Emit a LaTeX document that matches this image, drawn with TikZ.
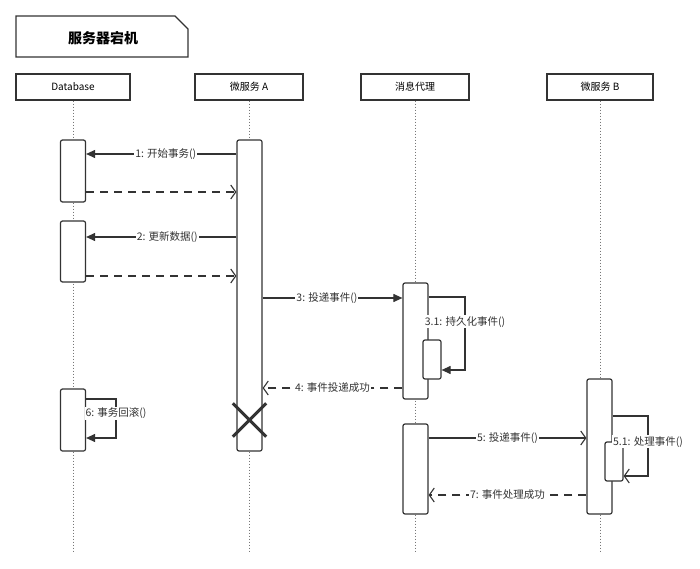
\documentclass[tikz,border=0pt]{standalone}
\usepackage{fontspec}
\setmainfont{Noto Sans CJK SC}
\usetikzlibrary{arrows.meta}
\definecolor{ink}{HTML}{333333}
\definecolor{lifec}{HTML}{777777}
\tikzset{
  hdr/.style={draw=ink, line width=1.3pt, fill=white, minimum width=#1, minimum height=26pt, inner sep=0pt, font=\fontsize{10}{12}\selectfont},
  act/.style={draw=ink, line width=1.2pt, fill=white, rounded corners=2pt, inner sep=0pt},
  life/.style={draw=lifec, line width=1pt, dotted},
  msg/.style={draw=ink, line width=1.1pt, -{Triangle[length=9pt,width=8pt]}},
  amsg/.style={draw=ink, line width=1.1pt, -{Straight Barb[length=5pt,width=14pt,line width=1.1pt]}},
  ret/.style={draw=ink, line width=1.1pt, dash pattern=on 8pt off 6pt, -{Straight Barb[length=5pt,width=14pt,line width=1.1pt]}},
  lbl/.style={fill=white, inner sep=1pt, font=\fontsize{10.5}{12}\selectfont, text=ink},
}
\begin{document}
\begin{tikzpicture}[x=1pt,y=-1pt]
\useasboundingbox[fill=white] (0,0) rectangle (700,569);
% title frame
\draw[ink, line width=1.3pt] (16,16) -- (175,16) -- (188,29) -- (188,57) -- (16,57) -- cycle;
\node[font=\fontsize{14}{16}\selectfont\bfseries, text=black] (title) at (103,38) {服务器宕机};
% headers
\node[hdr=114pt] (hdb) at (73,87) {Database};
\node[hdr=108pt] (ha) at (249,87) {微服务 A};
\node[hdr=108pt] (hm) at (415,87) {消息代理};
\node[hdr=106pt] (hb) at (600,87) {微服务 B};
% lifeline ends
\coordinate (edb) at (73,552);
\coordinate (ea) at (249,552);
\coordinate (em) at (415,552);
\coordinate (eb) at (600,552);
\draw[life] (hdb.south) -- (edb);
\draw[life] (ha.south) -- (ea);
\draw[life] (hm.south) -- (em);
\draw[life] (hb.south) -- (eb);
% activations
\node[act, minimum width=25pt, minimum height=62pt] (D1) at (73,171) {};
\node[act, minimum width=25pt, minimum height=61pt] (D2) at (73,251.5) {};
\node[act, minimum width=25pt, minimum height=62pt] (D3) at (73,420) {};
\node[act, minimum width=25pt, minimum height=311pt] (A) at (249.5,295.5) {};
\node[act, minimum width=25pt, minimum height=116pt] (M1) at (415.5,341) {};
\node[act, minimum width=18pt, minimum height=39pt] (M11) at (432,359.5) {};
\node[act, minimum width=25pt, minimum height=90pt] (M2) at (415.5,469) {};
\node[act, minimum width=25pt, minimum height=135pt] (B) at (599.5,446.5) {};
\node[act, minimum width=18pt, minimum height=39pt] (B1) at (614,461.5) {};
% destruction
\node[minimum size=33pt, inner sep=0pt] (X) at (249.5,420) {};
\draw[ink, line width=3pt] (X.north west) -- (X.south east) (X.north east) -- (X.south west);
% messages
\draw[msg] (A.west |- 0,154) -- node[lbl, pos=0.47] {1: 开始事务()} (D1.east |- 0,154);
\draw[ret] (D1.east |- 0,192) -- (A.west |- 0,192);
\draw[msg] (A.west |- 0,237) -- node[lbl, pos=0.46] {2: 更新数据()} (D2.east |- 0,237);
\draw[ret] (D2.east |- 0,276) -- (A.west |- 0,276);
\draw[msg] (A.east |- 0,298) -- node[lbl, pos=0.46] {3: 投递事件()} (M1.west |- 0,298);
\draw[msg] (M1.east |- 0,297) -- (465,297) -- node[lbl, pos=0.34] {3.1: 持久化事件()} (465,370) -- (M11.east |- 0,370);
\draw[ret] (M1.west |- 0,388) -- node[lbl, pos=0.5] {4: 事件投递成功} (A.east |- 0,388);
\draw[msg] (D3.east |- 0,399) -- (116,399) -- node[lbl, pos=0.36] {6: 事务回滚()} (116,438) -- (D3.east |- 0,438);
\draw[amsg] (M2.east |- 0,438) -- node[lbl, pos=0.5] {5: 投递事件()} (B.west |- 0,438);
\draw[amsg] (B.east |- 0,416) -- (648,416) -- node[lbl, pos=0.43] {5.1: 处理事件()} (648,476) -- (B1.east |- 0,476);
\draw[ret] (B.west |- 0,495) -- node[lbl, pos=0.5] {7: 事件处理成功} (M2.east |- 0,495);
\end{tikzpicture}
\end{document}
